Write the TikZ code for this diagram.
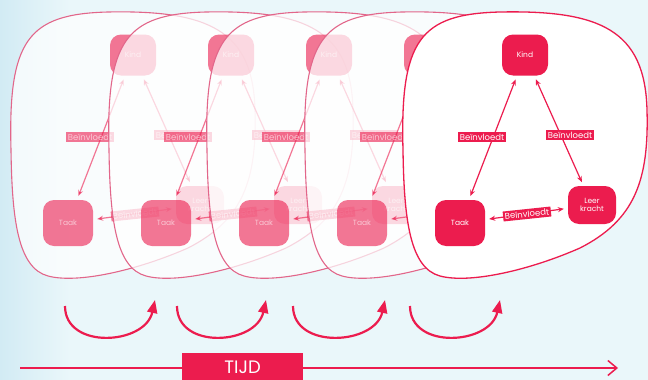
\documentclass[tikz,border=0pt]{standalone}
\usepackage{fontspec}
\setmainfont{Poppins}
\usetikzlibrary{arrows.meta}
\definecolor{rood}{HTML}{EC1C4E}
\definecolor{roze}{HTML}{E2668A}
\definecolor{bg}{HTML}{EAF7FA}
\definecolor{bgl}{HTML}{D2EBF4}
\newcommand\kaartpad{(403,150) .. controls (400,40) and (420,14) .. (500,12) .. controls (600,10) and (645,30) .. (647,110) .. controls (649,180) and (635,220) .. (580,248) .. controls (530,270) and (470,284) .. (440,276) .. controls (410,268) and (404,220) .. (403,150) -- cycle}
\newcommand\kaartinhoud[1]{%
  \node[box] (kind#1) at (525,55) {Kind};
  \node[box, minimum width=50pt, minimum height=46pt] (taak#1) at (460,223) {Taak};
  \ifnum#1=4
    \node[box, minimum width=48pt, minimum height=38pt] (leer#1) at (592,205) {};
  \else
    \node[box, minimum width=48pt, minimum height=38pt] (leer#1) at (592,205) {Leer\\[-1pt]kracht};
  \fi
  \draw[rel] (kind#1) -- (taak#1);
  \draw[rel] (kind#1) -- (leer#1);
  \draw[rel] (taak#1) -- (leer#1);
  \node[lab] (la#1) at (482,137) {Beïnvloedt};
  \ifnum#1=4 \else
    \node[lab] (lb#1) at (570,135) {Beïnvloedt};
    \node[lab, rotate=6] (lc#1) at (527,214) {Beïnvloedt};
  \fi
}
\tikzset{
 box/.style={fill=rood, text=white, rounded corners=11pt, minimum width=46pt, minimum height=41pt, inner sep=1pt, font=\fontsize{7.5}{8.5}\selectfont, align=center},
 lab/.style={fill=rood, text=white, inner sep=1.8pt, font=\fontsize{8.5}{9}\selectfont},
 rel/.style={draw=rood, line width=1.2pt, {Stealth[length=6pt,width=5pt]}-{Stealth[length=6pt,width=5pt]}, shorten <=4pt, shorten >=4pt},
 kaart/.style={draw=roze, line width=1.1pt, fill=white, fill opacity=0.72},
 voorkaart/.style={draw=rood, line width=1.3pt, fill=white},
 uarrow/.style={draw=rood, line width=2.2pt, -{Triangle[length=13pt,width=10pt]}},
}
\begin{document}
\begin{tikzpicture}[x=1pt,y=-1pt]
\useasboundingbox (0,0) rectangle (648,380);
\fill[bg] (0,0) rectangle (648,380);
\shade[left color=bgl, right color=bg] (0,0) rectangle (70,380);
% rear cards
\foreach \i in {1,2,3,4}{
  \begin{scope}[xshift={(\i-5)*98pt}]
    \path[kaart] \kaartpad;
    \begin{scope}[opacity=0.6]
      \kaartinhoud{\i}
    \end{scope}
  \end{scope}
}
% front card
\path[voorkaart] \kaartpad;
\kaartinhoud{5}
% cycle arrows
\foreach \i/\a/\b in {1/65/155, 2/177/266, 3/293/385, 4/410/500}{
  \coordinate (u\i a) at (\a,306);
  \coordinate (u\i b) at (\b,300);
  \draw[uarrow] (u\i a) .. controls +(0,44) and +(-10,45) .. (u\i b);
}
% time line
\coordinate (t0) at (20,368);
\coordinate (t1) at (618,368);
\draw[draw=rood, line width=1.5pt, -{Straight Barb[length=9pt,width=15pt]}] (t0) -- (t1);
\node[fill=rood, text=white, minimum width=121pt, minimum height=28pt, inner sep=0pt, anchor=north west, font=\fontsize{18}{18}\selectfont] (tijd) at (182,353) {TIJD};
\end{tikzpicture}
\end{document}
